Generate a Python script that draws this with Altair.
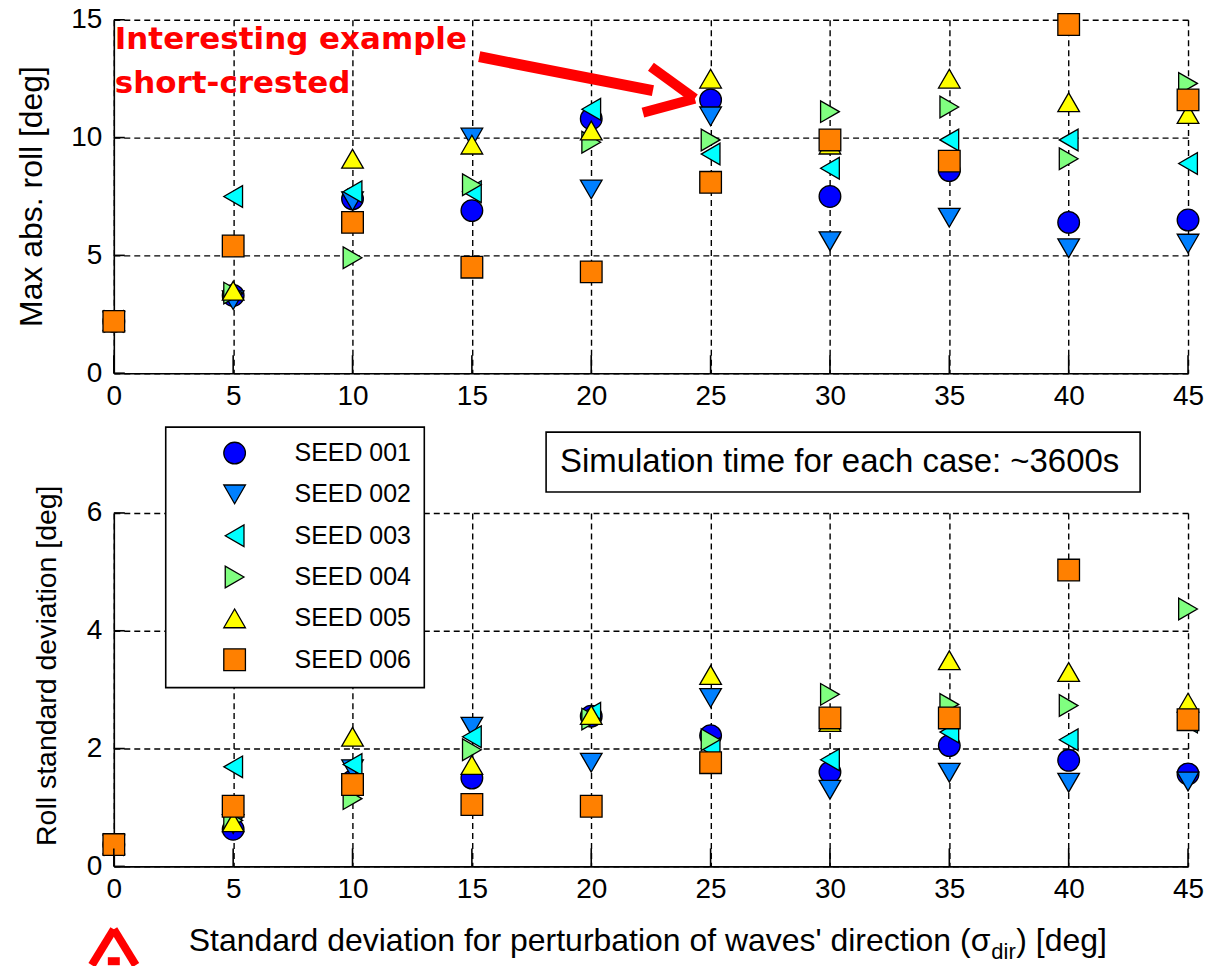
import altair as alt
import pandas as pd

# ---------------- data ----------------
X_VALUES = [0, 5, 10, 15, 20, 25, 30, 35, 40, 45]
SEEDS = ["SEED 001", "SEED 002", "SEED 003", "SEED 004", "SEED 005", "SEED 006"]

MAX_ROLL_001 = [2.2, 3.3, 7.4, 6.9, 10.8, 11.6, 7.5, 8.6, 6.4, 6.5]
MAX_ROLL_002 = [2.2, 3.1, 7.3, 10.0, 7.8, 10.9, 5.6, 6.6, 5.3, 5.5]
MAX_ROLL_003 = [2.2, 7.5, 7.7, 7.7, 11.2, 9.3, 8.7, 9.9, 9.9, 8.9]
MAX_ROLL_004 = [2.2, 3.4, 4.9, 8.0, 9.8, 9.9, 11.1, 11.3, 9.1, 12.3]
MAX_ROLL_005 = [2.2, 3.5, 9.1, 9.7, 10.3, 12.5, 9.7, 12.5, 11.5, 11.0]
MAX_ROLL_006 = [2.2, 5.4, 6.4, 4.5, 4.3, 8.1, 9.9, 9.0, 14.8, 11.6]

ROLL_STD_001 = [0.37, 0.63, 1.45, 1.5, 2.55, 2.22, 1.6, 2.05, 1.8, 1.57]
ROLL_STD_002 = [0.37, 0.72, 1.65, 2.37, 1.76, 2.86, 1.3, 1.59, 1.42, 1.44]
ROLL_STD_003 = [0.37, 1.69, 1.73, 2.2, 2.6, 2.0, 1.81, 2.28, 2.15, 2.45]
ROLL_STD_004 = [0.37, 0.78, 1.15, 1.98, 2.5, 2.15, 2.92, 2.75, 2.73, 4.37]
ROLL_STD_005 = [0.37, 0.75, 2.2, 1.72, 2.57, 3.25, 2.45, 3.5, 3.3, 2.78]
ROLL_STD_006 = [0.37, 1.02, 1.39, 1.05, 1.02, 1.76, 2.52, 2.52, 5.03, 2.49]

SEED_COLORS = ["#0000FF", "#0080FF", "#00FFFF", "#80FF80", "#FFFF00", "#FF8000"]
SEED_SHAPES = ["circle", "triangle-down", "triangle-left", "triangle-right",
               "triangle-up", "square"]

X_TICKS = [0, 5, 10, 15, 20, 25, 30, 35, 40, 45]
TOP_Y_TICKS = [0, 5, 10, 15]
BOTTOM_Y_TICKS = [0, 2, 4, 6]

TOP_Y_TITLE = "Max abs. roll [deg]"
BOTTOM_Y_TITLE = "Roll standard deviation [deg]"
X_TITLE_MAIN = "Standard deviation for perturbation of waves' direction (\u03c3"
X_TITLE_SUB = "dir"
X_TITLE_END = ") [deg]"
NOTE_LINE_1 = "Interesting example"
NOTE_LINE_2 = "short-crested"
SIM_TEXT = "Simulation time for each case: ~3600s"

# ---------------- helpers ----------------
FONT = "Liberation Sans"
W, H = 1076, 354
ONE = pd.DataFrame({"k": [0]})
COLOR_SCALE = alt.Scale(domain=SEEDS, range=SEED_COLORS)
SHAPE_SCALE = alt.Scale(domain=SEEDS, range=SEED_SHAPES)


def long_frame(series):
    rows = []
    for i, (seed, vals) in enumerate(zip(SEEDS, series)):
        for x, v in zip(X_VALUES, vals):
            rows.append({"sigma": x, "value": v, "seed": seed, "ord": i})
    return pd.DataFrame(rows)


def text(t, x, y, **kw):
    return alt.Chart(ONE).mark_text(text=t, **kw).encode(x=alt.value(x), y=alt.value(y))


def seg(x1, y1, x2, y2, width, color="#FF0000", cap="butt"):
    return alt.Chart(ONE).mark_rule(color=color, strokeWidth=width, strokeCap=cap).encode(
        x=alt.value(x1), y=alt.value(y1), x2=alt.value(x2), y2=alt.value(y2))


def panel(series, y_ticks, y_max, independent_y):
    df = long_frame(series)
    xs = alt.Scale(domain=[0, 45], nice=False, zero=False)
    ys = alt.Scale(domain=[0, y_max], nice=False, zero=False)
    common = dict(grid=True, gridColor="black", gridOpacity=1, gridDash=[6, 4],
                  gridWidth=1.4, ticks=False, tickSize=0, domainColor="black",
                  domainWidth=1.6, labelFont=FONT, labelFontSize=28,
                  labelColor="black", labelFlush=False, format="d", title=None)
    x_axis = alt.Axis(values=X_TICKS, labelPadding=9, **common)
    y_axis = alt.Axis(values=y_ticks, labelPadding=12, **common)
    points = alt.Chart(df).mark_point(
        filled=True, size=470, opacity=1, stroke="black", strokeWidth=1.3
    ).encode(
        x=alt.X("sigma:Q", scale=xs, axis=x_axis),
        y=alt.Y("value:Q", scale=ys, axis=y_axis),
        color=alt.Color("seed:N", scale=COLOR_SCALE, legend=None),
        shape=alt.Shape("seed:N", scale=SHAPE_SCALE, legend=None),
        order=alt.Order("ord:Q"),
    )
    xt = alt.Chart(pd.DataFrame({"t": X_TICKS})).mark_rule(
        color="black", strokeWidth=1.6).encode(
        x=alt.X("t:Q", scale=xs, axis=x_axis), y=alt.value(H), y2=alt.value(H - 18))
    if independent_y:
        yenc = alt.Y("t:Q", scale=ys, axis=None)
    else:
        yenc = alt.Y("t:Q", scale=ys, axis=y_axis)
    yt = alt.Chart(pd.DataFrame({"t": y_ticks})).mark_rule(
        color="black", strokeWidth=1.6).encode(
        y=yenc, x=alt.value(0), x2=alt.value(11))
    return [points, xt, yt]


# ---------------- top panel ----------------
top_layers = panel([MAX_ROLL_001, MAX_ROLL_002, MAX_ROLL_003, MAX_ROLL_004,
                    MAX_ROLL_005, MAX_ROLL_006], TOP_Y_TICKS, 15, False)
top_layers += [
    text(TOP_Y_TITLE, -72, 177, angle=270, align="center", baseline="alphabetic",
         font=FONT, fontSize=32, color="black"),
    text(NOTE_LINE_1, 1, 29, align="left", baseline="alphabetic",
         font="DejaVu Sans", fontWeight="bold", fontSize=31, color="#FF0000"),
    text(NOTE_LINE_2, 1, 73, align="left", baseline="alphabetic",
         font="DejaVu Sans", fontWeight="bold", fontSize=31, color="#FF0000"),
    seg(366, 37, 540, 71, 11),
    seg(538, 47, 582, 79, 10),
    seg(530, 93, 582, 79, 10),
]
top = alt.layer(*top_layers).properties(width=W, height=H)

# ---------------- bottom panel ----------------
legend_df = pd.DataFrame({"seed": SEEDS, "row": list(range(len(SEEDS)))})
legend_y = alt.Y("row:Q", scale=alt.Scale(domain=[0, 5], range=[-60, 147]), axis=None)
legend_box = alt.Chart(ONE).mark_rect(fill="white", stroke="black", strokeWidth=1.6).encode(
    x=alt.value(52), x2=alt.value(311), y=alt.value(-86), y2=alt.value(175))
legend_symbols = alt.Chart(legend_df).mark_point(
    filled=True, size=470, opacity=1, stroke="black", strokeWidth=1.3
).encode(
    x=alt.value(121), y=legend_y,
    color=alt.Color("seed:N", scale=COLOR_SCALE, legend=None),
    shape=alt.Shape("seed:N", scale=SHAPE_SCALE, legend=None),
)
legend_labels = alt.Chart(legend_df).mark_text(
    align="left", baseline="middle", font=FONT, fontSize=25, color="black"
).encode(x=alt.value(181), y=legend_y, text="seed:N")

bottom_layers = panel([ROLL_STD_001, ROLL_STD_002, ROLL_STD_003, ROLL_STD_004,
                       ROLL_STD_005, ROLL_STD_006], BOTTOM_Y_TICKS, 6, True)
bottom_layers += [
    text(BOTTOM_Y_TITLE, -58, 153, angle=270, align="center", baseline="alphabetic",
         font=FONT, fontSize=28.5, color="black"),
    alt.Chart(ONE).mark_rect(fill="white", stroke="black", strokeWidth=1.6).encode(
        x=alt.value(433), x2=alt.value(1028), y=alt.value(-81), y2=alt.value(-21)),
    text(SIM_TEXT, 727, -51, align="center", baseline="middle",
         font=FONT, fontSize=33, color="black"),
    text(X_TITLE_MAIN, 878, 439, align="right", baseline="alphabetic",
         font=FONT, fontSize=32, color="black"),
    text(X_TITLE_SUB, 879, 447, align="left", baseline="alphabetic",
         font=FONT, fontSize=22, color="black"),
    text(X_TITLE_END, 904, 439, align="left", baseline="alphabetic",
         font=FONT, fontSize=32, color="black"),
    seg(-22, 453, 0, 417, 8),
    seg(0, 417, 22, 453, 8),
    alt.Chart(ONE).mark_rect(fill="#FF0000").encode(
        x=alt.value(-6), x2=alt.value(6), y=alt.value(445), y2=alt.value(453)),
    legend_box,
    legend_symbols,
    legend_labels,
]
bottom = alt.layer(*bottom_layers).resolve_scale(y="independent").properties(
    width=W, height=H)

chart = alt.vconcat(top, bottom, spacing=140, bounds="flush").properties(
    padding={"left": 16, "top": 5, "right": 2, "bottom": 0},
    background="white",
).configure_view(stroke=None)

chart.save("out.html", embed_options={"renderer": "svg", "actions": False})
